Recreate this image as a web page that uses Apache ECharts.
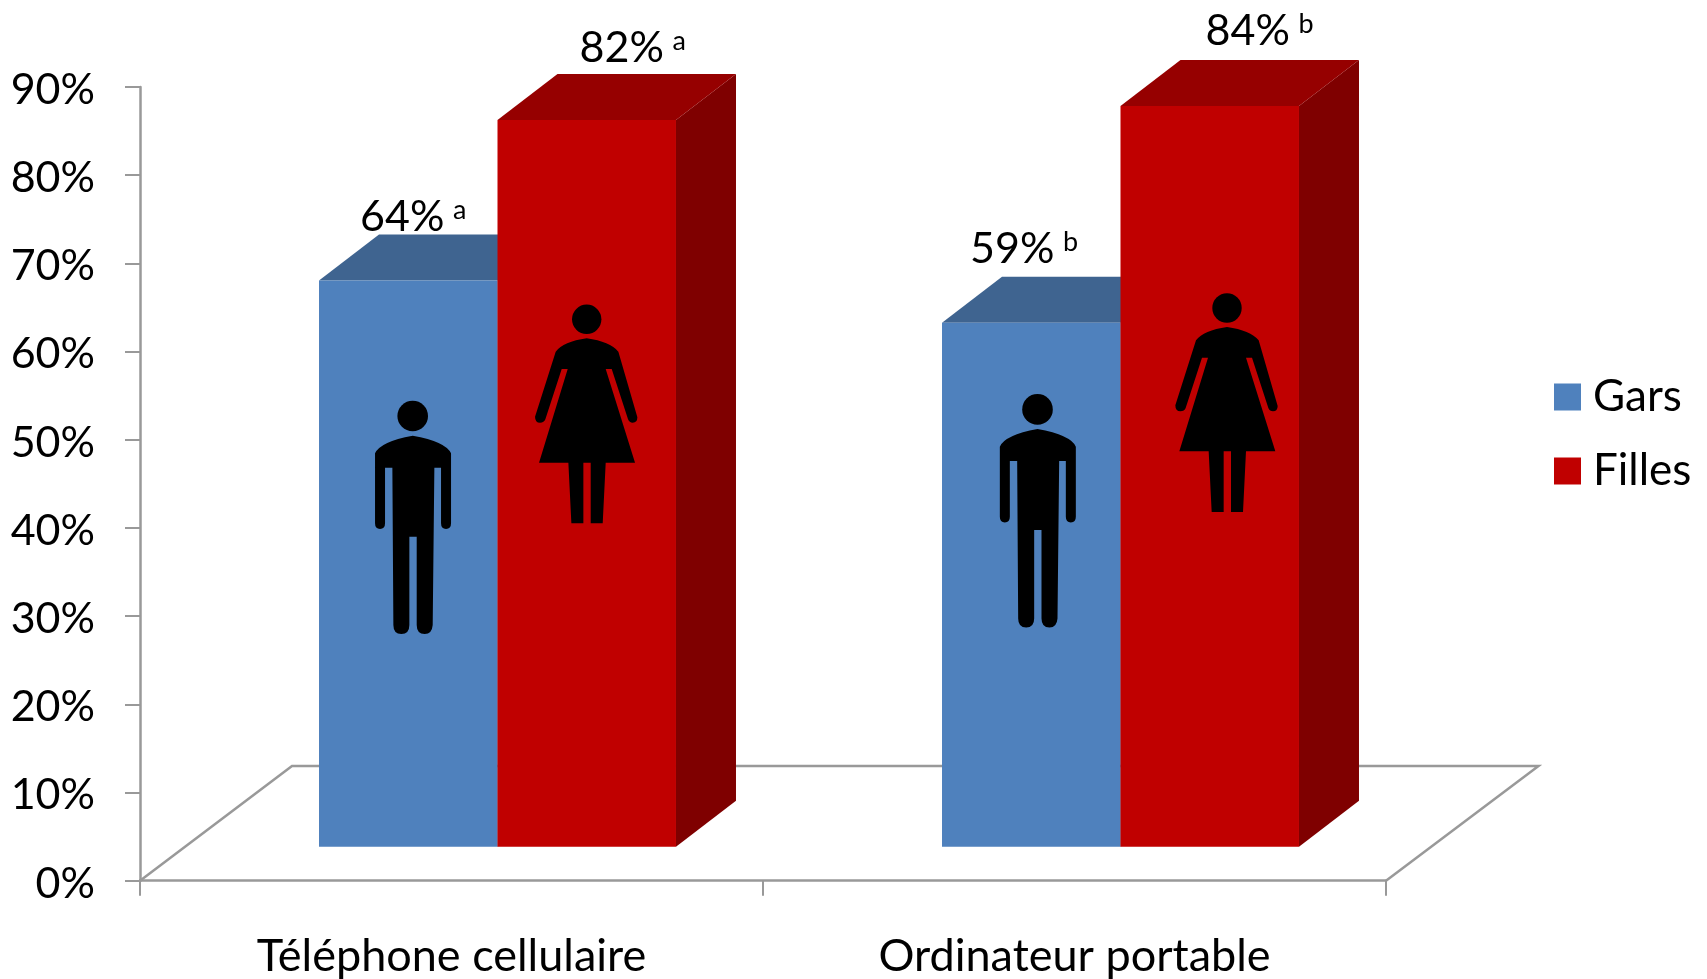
<!DOCTYPE html>
<html>
<head>
<meta charset="utf-8">
<style>html,body{margin:0;padding:0;background:#fff}#c{width:1707px;height:979px}</style>
<script src="https://cdn.jsdelivr.net/npm/echarts@6/dist/echarts.min.js"></script>
</head>
<body>
<div id="c"></div>
<script>
const categories = ['Téléphone cellulaire', 'Ordinateur portable'];
const garsValues = [64.2, 59.4];
const fillesValues = [82.4, 84];
const garsNotes = ['a', 'b'];
const fillesNotes = ['a', 'b'];

const FONT = 'Lato, "Open Sans", sans-serif';
const GREY = '#999999';
const G = {left: 140, right: 1386, top: 87, bottom: 880.7};

function barSeries(name, values, notes, slot, colors, labelDx, labelDy) {
  return {
    type: 'custom', name: name, coordinateSystem: 'cartesian2d', z: 3 + slot,
    itemStyle: {color: colors.front},
    encode: {x: 0, y: 1},
    data: values.map((v, i) => [i, v]),
    renderItem: function (params, api) {
      const i = api.value(0), v = api.value(1);
      const base = api.coord([i, 0]), top = api.coord([i, v]);
      const band = api.size([1, 0])[0];
      const w = band * 0.2865;
      const bx = base[0] + 46 + (slot - 1) * w, by = base[1] - 34;
      const ty = top[1] - 34;
      const dx = 60, dy = 46;
      const lx = bx + labelDx[i], ly = ty - labelDy[i];
      return {type: 'group', children: [
        {type: 'polygon', shape: {points: [[bx + w, by], [bx + w + dx, by - dy], [bx + w + dx, ty - dy], [bx + w, ty]]}, style: {fill: colors.side}},
        {type: 'polygon', shape: {points: [[bx, ty], [bx + dx, ty - dy], [bx + w + dx, ty - dy], [bx + w, ty]]}, style: {fill: colors.top}},
        {type: 'rect', shape: {x: bx, y: ty, width: w, height: by - ty}, style: {fill: colors.front}},
        {type: 'text', style: {text: Math.round(v) + '%', x: lx, y: ly, font: '43px ' + FONT, fill: '#000', textAlign: 'left', textVerticalAlign: 'bottom'}},
        {type: 'text', style: {text: notes[i], x: lx + 93, y: ly - 15, font: '27px ' + FONT, fill: '#000', textAlign: 'left', textVerticalAlign: 'bottom'}}
      ]};
    }
  };
}

const manPath = 'M75 490Q90 455 188 437Q288 455 303 490L303 700Q303 717 288 717Q273 717 273 700L273 533L253 533L248 1005Q246 1032 224 1032Q200 1032 200 1005L200 740L178 740L178 1005Q178 1032 154 1032Q130 1032 130 1005L127 533L105 533L105 700Q105 717 90 717Q75 717 75 700Z';
const womanPath = 'M617 185Q640 155 710 145Q780 155 805 185L862 382Q862 398 848 398Q838 398 834 388L785 237L767 237L855 518L767 518L758 700L722 700L722 518L700 518L700 700L664 700L655 518L567 518L653 237L635 237L586 388Q582 398 570 398Q555 398 555 380Z';

function figure(path, hx, hy, r, box, head) {
  return [
    {type: 'circle', shape: {cx: hx, cy: hy, r: r}, style: {fill: '#000'}},
    {type: 'path', shape: {pathData: path, layout: 'cover',
      x: hx + (box[0] - head[0]) / 3, y: hy + (box[1] - head[1]) / 3,
      width: (box[2] - box[0]) / 3, height: (box[3] - box[1]) / 3}, style: {fill: '#000'}}
  ];
}
const man = (x, y) => figure(manPath, x, y, 15.3, [75, 437, 303, 1032], [188, 378]);
const woman = (x, y) => figure(womanPath, x, y, 14.7, [555, 145, 862, 700], [710, 88]);

const floorLine = (pts) => ({type: 'polyline', z: 1, silent: true, shape: {points: pts}, style: {stroke: GREY, lineWidth: 2.5, fill: null}});

const chart = echarts.init(document.getElementById('c'), null, {renderer: 'canvas'});
chart.setOption({
  animation: false,
  backgroundColor: '#fff',
  color: ['#4F81BD', '#C00000'],
  textStyle: {fontFamily: FONT},
  grid: {left: G.left, right: 1707 - G.right, top: G.top, bottom: 979 - G.bottom, containLabel: false},
  xAxis: {
    type: 'category', data: categories,
    axisLine: {lineStyle: {color: GREY, width: 2.5}},
    axisTick: {show: true, length: 15, lineStyle: {color: GREY, width: 2}},
    axisLabel: {color: '#000', fontSize: 45, fontFamily: FONT, margin: 53},
    splitLine: {show: false}
  },
  yAxis: {
    type: 'value', min: 0, max: 90, interval: 10,
    axisLine: {show: true, lineStyle: {color: GREY, width: 2.5}},
    axisTick: {show: true, length: 15, lineStyle: {color: GREY, width: 2}},
    axisLabel: {color: '#000', margin: 45, formatter: (v) => '{v|' + v + '%}',
      rich: {v: {color: '#000', fontSize: 43, fontFamily: FONT, padding: [6, 0, 0, 0]}}},
    splitLine: {show: false}
  },
  legend: {
    orient: 'vertical', left: 1554, top: 375, padding: 0, itemWidth: 27, itemHeight: 27, itemGap: 30, icon: 'rect',
    selectedMode: false,
    textStyle: {color: '#000', fontSize: 44, fontFamily: FONT, padding: [0, 0, 0, 7]},
    data: ['Gars', 'Filles']
  },
  series: [
    barSeries('Gars', garsValues, garsNotes, 0, {front: '#4F81BD', top: '#3F6490', side: '#3A5F8B'}, [41, 28], [42, 52]),
    barSeries('Filles', fillesValues, fillesNotes, 1, {front: '#C00000', top: '#960000', side: '#7F0000'}, [82, 85], [50, 53]),
    {
      type: 'custom', name: 'Silhouettes', coordinateSystem: 'none', z: 20, silent: true,
      data: [[0]],
      renderItem: () => ({type: 'group', children:
        [].concat(man(412.7, 416), man(1037.5, 409.4), woman(586.7, 319.3), woman(1227, 308))})
    }
  ],
  graphic: {elements: [
    floorLine([[G.left, G.bottom], [292, 766], [1538.5, 766], [G.right, G.bottom]])
  ]}
});
</script>
</body>
</html>
